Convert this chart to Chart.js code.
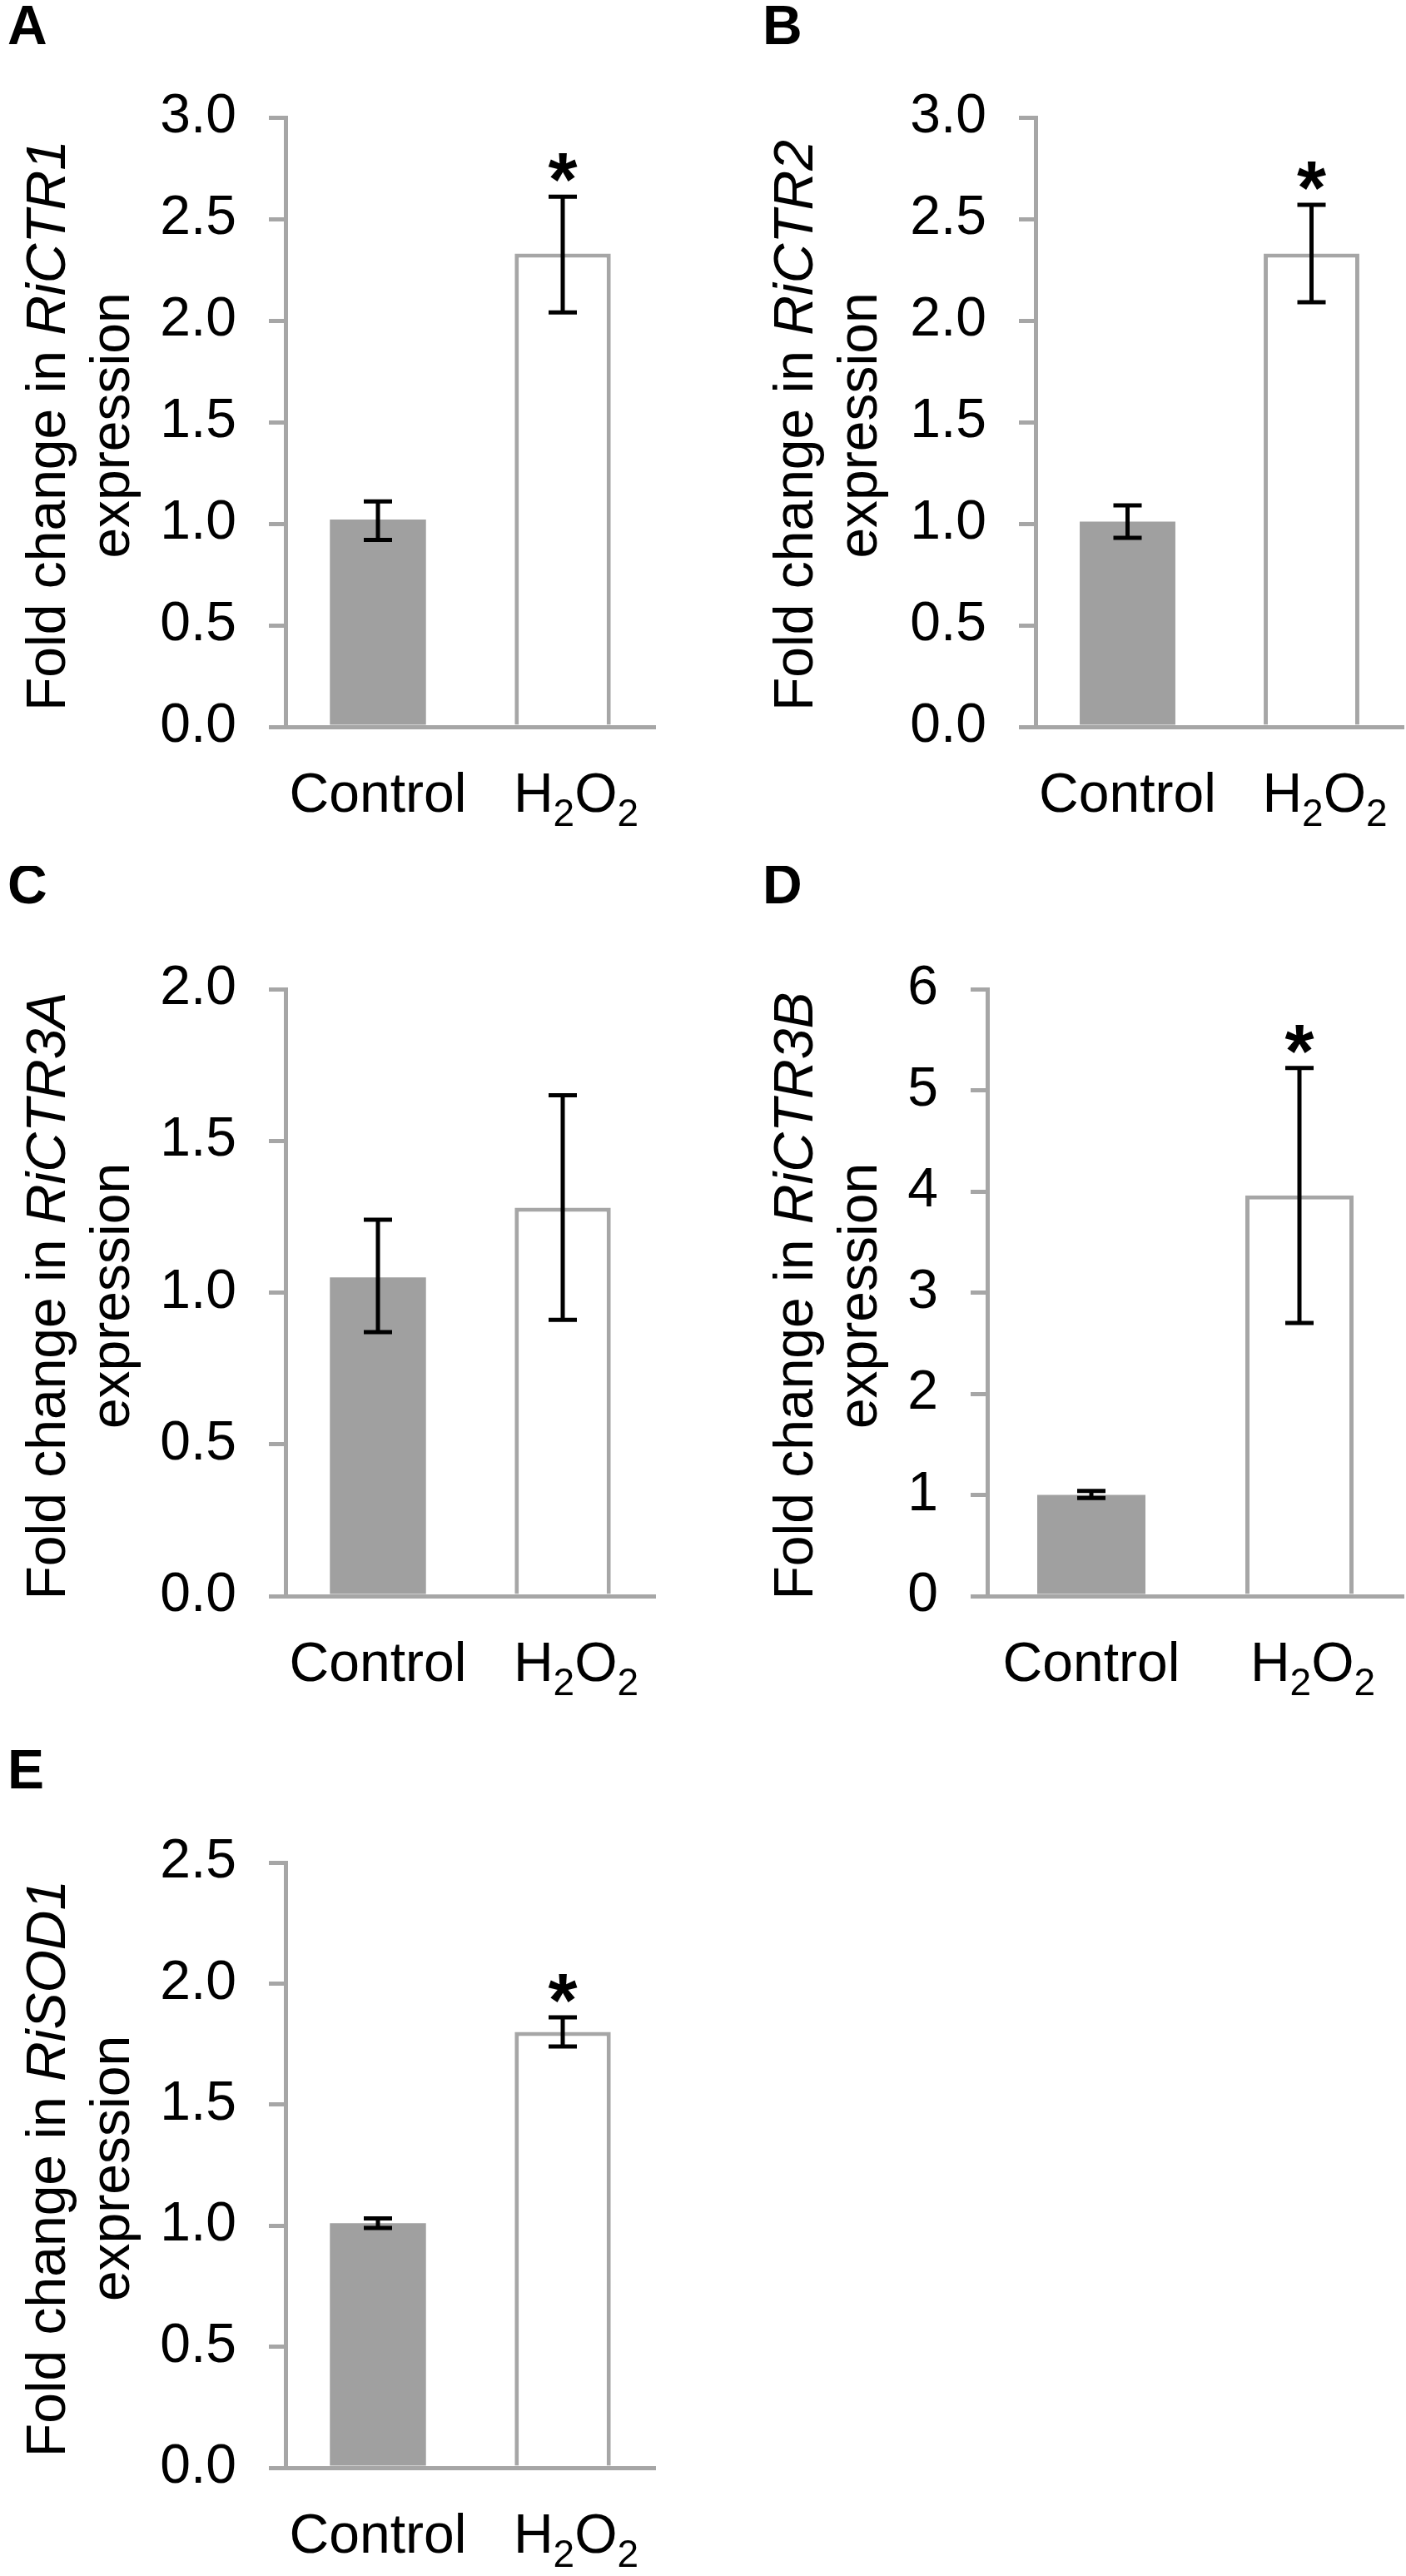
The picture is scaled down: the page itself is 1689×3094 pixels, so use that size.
<!DOCTYPE html>
<html lang="en">
<head>
<meta charset="UTF-8">
<title>Fold change in expression after H2O2</title>
<script src="https://cdn.jsdelivr.net/npm/chart.js"></script>
<style>
    body {
        margin: 0;
        padding: 0;
        background: #fff;
        width: 1689px;
        height: 3094px;
        position: relative;
        overflow: hidden;
    }
    .panel {
        position: absolute;
    }
</style>
</head>
<body>
<div class="panel" id="boxA"><canvas id="chartA"></canvas></div>
<div class="panel" id="boxB"><canvas id="chartB"></canvas></div>
<div class="panel" id="boxC"><canvas id="chartC"></canvas></div>
<div class="panel" id="boxD"><canvas id="chartD"></canvas></div>
<div class="panel" id="boxE"><canvas id="chartE"></canvas></div>

<script>
// ---- data ----
const groups = ['Control', 'H2O2'];

const ctr1Mean = [1.02, 2.33];
const ctr1Low  = [0.92, 2.04];
const ctr1High = [1.11, 2.61];
const ctr1Sig  = [false, true];

const ctr2Mean = [1.01, 2.33];
const ctr2Low  = [0.93, 2.09];
const ctr2High = [1.09, 2.57];
const ctr2Sig  = [false, true];

const ctr3aMean = [1.05, 1.28];
const ctr3aLow  = [0.87, 0.91];
const ctr3aHigh = [1.24, 1.65];
const ctr3aSig  = [false, false];

const ctr3bMean = [1.00, 3.96];
const ctr3bLow  = [0.97, 2.70];
const ctr3bHigh = [1.04, 5.22];
const ctr3bSig  = [false, true];

const sod1Mean = [1.01, 1.80];
const sod1Low  = [0.99, 1.74];
const sod1High = [1.03, 1.86];
const sod1Sig  = [false, true];

const yMaxes   = [3, 3, 2, 6, 2.5];
const ySteps   = [0.5, 0.5, 0.5, 1, 0.5];
const yDigits  = [1, 1, 1, 0, 1];
const genes    = ['RiCTR1', 'RiCTR2', 'RiCTR3A', 'RiCTR3B', 'RiSOD1'];
const letters  = ['A', 'B', 'C', 'D', 'E'];

// ---- layout (page pixels) ----
const FONT = "'Liberation Sans', Arial, sans-serif";
const GRAY_BAR = '#a0a0a0';
const GRAY_AXIS = '#a6a6a6';

const boxes = [
    {id: 'A', left: 0,   top: 0,    w: 845, h: 1040, plotLeft: 343,  plotTop: 141,  plotRight: 787,  plotBottom: 873,  letterX: 9,   letterY: 53,   titleX: [78, 155]},
    {id: 'B', left: 845, top: 0,    w: 844, h: 1040, plotLeft: 1244, plotTop: 141,  plotRight: 1686, plotBottom: 873,  letterX: 916, letterY: 53,   titleX: [976, 1053]},
    {id: 'C', left: 0,   top: 1040, w: 845, h: 1050, plotLeft: 343,  plotTop: 1188, plotRight: 787,  plotBottom: 1917, letterX: 9,   letterY: 1085, titleX: [78, 155]},
    {id: 'D', left: 845, top: 1040, w: 844, h: 1050, plotLeft: 1186, plotTop: 1188, plotRight: 1686, plotBottom: 1917, letterX: 916, letterY: 1085, titleX: [976, 1053]},
    {id: 'E', left: 0,   top: 2090, w: 845, h: 1004, plotLeft: 343,  plotTop: 2237, plotRight: 787,  plotBottom: 2964, letterX: 9,   letterY: 2148, titleX: [78, 155]}
];

// draw a row of text pieces centred on cx
function drawRuns(ctx, runs, cx, baseline) {
    let total = 0;
    runs.forEach(r => {
        ctx.font = r.font;
        r.w = ctx.measureText(r.text).width;
        total += r.w;
    });
    let xx = cx - total / 2;
    runs.forEach(r => {
        ctx.font = r.font;
        ctx.fillText(r.text, xx, baseline + (r.dy || 0));
        xx += r.w;
    });
}

function labelRuns(name) {
    if (name === 'H2O2') {
        return [
            {text: 'H', font: '66px ' + FONT},
            {text: '2', font: '46px ' + FONT, dy: 17},
            {text: 'O', font: '66px ' + FONT},
            {text: '2', font: '46px ' + FONT, dy: 17}
        ];
    }
    return [{text: name, font: '66px ' + FONT}];
}

const decorPlugin = {
    id: 'decor',
    afterDatasetsDraw(chart, args, opts) {
        const ctx = chart.ctx;
        const ys = chart.scales.y;
        const meta = chart.getDatasetMeta(0);
        ctx.save();
        ctx.strokeStyle = '#000';
        ctx.fillStyle = '#000';
        ctx.lineWidth = 5;
        opts.low.forEach((lo, i) => {
            const bx = meta.data[i].x;
            const yTop = ys.getPixelForValue(opts.high[i]);
            const yBot = ys.getPixelForValue(lo);
            ctx.beginPath();
            ctx.moveTo(bx, yTop); ctx.lineTo(bx, yBot);
            ctx.moveTo(bx - 17, yTop); ctx.lineTo(bx + 17, yTop);
            ctx.moveTo(bx - 17, yBot); ctx.lineTo(bx + 17, yBot);
            ctx.stroke();
            if (opts.sig[i]) {
                ctx.font = 'bold 90px ' + FONT;
                ctx.textAlign = 'center';
                ctx.textBaseline = 'alphabetic';
                ctx.fillText('*', bx, yTop + 11);
            }
        });
        ctx.restore();
    },
    afterDraw(chart, args, opts) {
        const ctx = chart.ctx;
        const area = chart.chartArea;
        const xs = chart.scales.x;
        const b = opts.box;
        ctx.save();
        ctx.fillStyle = '#000';
        ctx.textAlign = 'left';
        ctx.textBaseline = 'alphabetic';

        // panel letter
        ctx.font = 'bold 66px ' + FONT;
        ctx.fillText(opts.letter, b.letterX - b.left, b.letterY - b.top);

        // category labels
        groups.forEach((g, i) => {
            const cx = xs.getPixelForValue(i) + (g === 'H2O2' ? 16 : 0);
            drawRuns(ctx, labelRuns(g), cx, area.bottom + 102);
        });

        // rotated two-line y title with italic gene name
        const cy = (area.top + area.bottom) / 2 + 4;
        ctx.save();
        ctx.translate(b.titleX[0] - b.left, cy);
        ctx.rotate(-Math.PI / 2);
        drawRuns(ctx, [
            {text: 'Fold change in ', font: '66px ' + FONT},
            {text: opts.gene, font: 'italic 66px ' + FONT}
        ], 0, 0);
        ctx.restore();
        ctx.save();
        ctx.translate(b.titleX[1] - b.left, cy);
        ctx.rotate(-Math.PI / 2);
        drawRuns(ctx, [{text: 'expression', font: '66px ' + FONT}], 0, 0);
        ctx.restore();

        ctx.restore();
    }
};

function makePanel(k, mean, low, high, sig) {
    const b = boxes[k];
    const wrap = document.getElementById('box' + b.id);
    wrap.style.left = b.left + 'px';
    wrap.style.top = b.top + 'px';
    wrap.style.width = b.w + 'px';
    wrap.style.height = b.h + 'px';

    new Chart(document.getElementById('chart' + b.id), {
        type: 'bar',
        data: {
            labels: groups,
            datasets: [{
                data: mean,
                backgroundColor: [GRAY_BAR, '#ffffff'],
                borderColor: [GRAY_BAR, GRAY_AXIS],
                borderWidth: [0, 5],
                barPercentage: 0.52,
                categoryPercentage: 1.0
            }]
        },
        options: {
            responsive: true,
            maintainAspectRatio: false,
            animation: false,
            devicePixelRatio: 1,
            events: [],
            layout: {
                padding: {left: 0, top: b.plotTop - b.top, right: b.left + b.w - b.plotRight, bottom: 0}
            },
            scales: {
                x: {
                    grid: {display: false},
                    border: {display: true, color: GRAY_AXIS, width: 5},
                    ticks: {display: false},
                    afterFit: s => { s.height = b.top + b.h - b.plotBottom; }
                },
                y: {
                    min: 0,
                    max: yMaxes[k],
                    grid: {drawOnChartArea: false, color: GRAY_AXIS, lineWidth: 5, tickLength: 20},
                    border: {display: true, color: GRAY_AXIS, width: 5},
                    ticks: {
                        stepSize: ySteps[k],
                        color: '#000',
                        padding: 39,
                        font: {family: FONT, size: 66},
                        callback: v => Number(v).toFixed(yDigits[k])
                    },
                    afterFit: s => { s.width = b.plotLeft - b.left; }
                }
            },
            plugins: {
                legend: {display: false},
                tooltip: {enabled: false},
                decor: {box: b, letter: letters[k], gene: genes[k], low: low, high: high, sig: sig}
            }
        },
        plugins: [decorPlugin]
    });
}

makePanel(0, ctr1Mean, ctr1Low, ctr1High, ctr1Sig);
makePanel(1, ctr2Mean, ctr2Low, ctr2High, ctr2Sig);
makePanel(2, ctr3aMean, ctr3aLow, ctr3aHigh, ctr3aSig);
makePanel(3, ctr3bMean, ctr3bLow, ctr3bHigh, ctr3bSig);
makePanel(4, sod1Mean, sod1Low, sod1High, sod1Sig);
</script>
</body>
</html>
